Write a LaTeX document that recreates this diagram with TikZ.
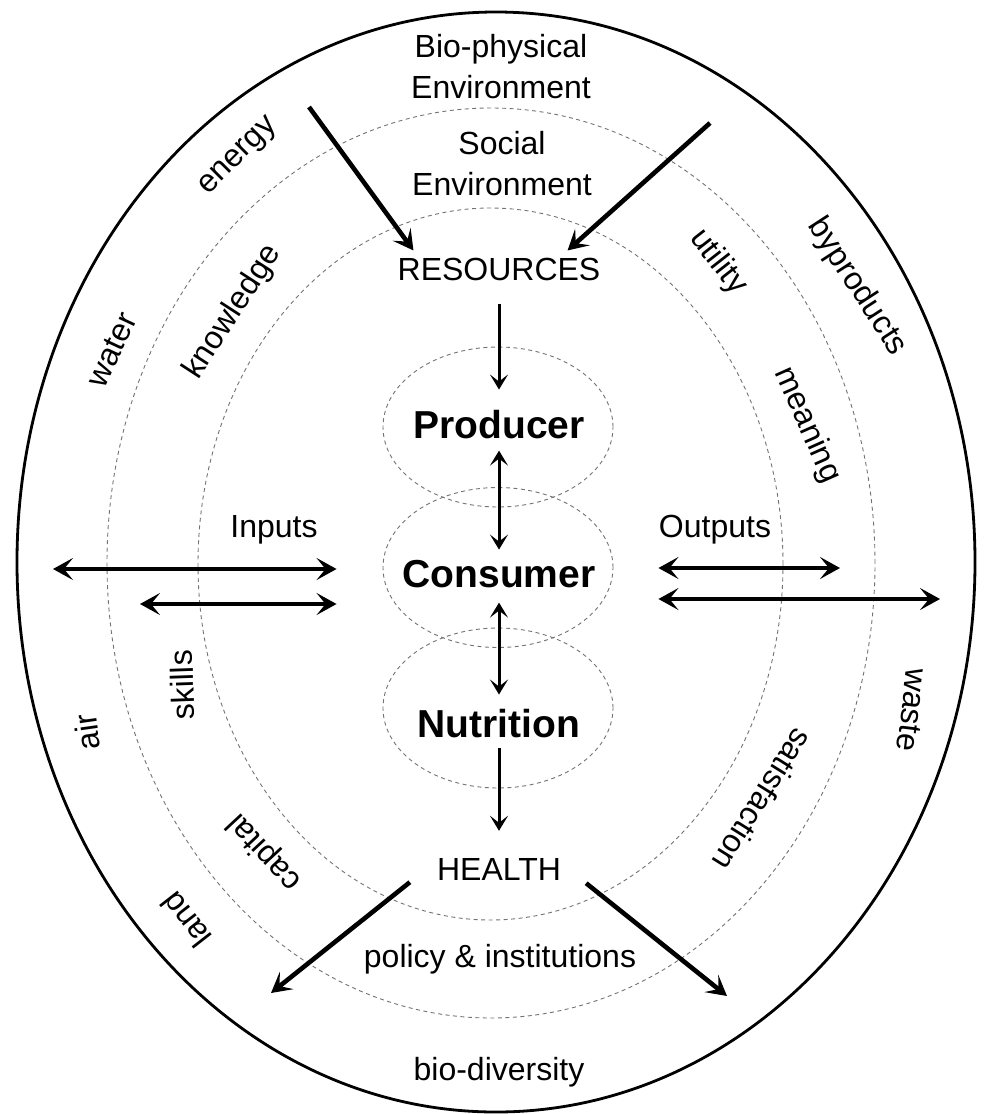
\documentclass[tikz,border=0pt]{standalone}
\usepackage{fontspec}
\setmainfont{Liberation Sans}
\usetikzlibrary{arrows.meta,shapes.geometric}
\begin{document}
\begin{tikzpicture}[x=1pt,y=1pt,
  lbl/.style={font=\fontsize{32}{41}\selectfont, inner sep=2pt, align=center},
  big/.style={font=\fontsize{39}{44}\selectfont\bfseries, inner sep=2pt},
  ring/.style={draw=black, line width=2.8pt},
  dring/.style={draw=black!55, line width=0.9pt, dash pattern=on 4pt off 3.5pt},
  fat/.style={line width=4.6pt, -{Stealth[length=20pt,width=22pt,inset=9pt]}},
  fatboth/.style={line width=4.6pt, {Stealth[length=20pt,width=22pt,inset=9pt]}-{Stealth[length=20pt,width=22pt,inset=9pt]}},
  thin/.style={line width=3pt, -{Stealth[length=15pt,width=18pt,inset=7pt]}},
  thinboth/.style={line width=3pt, {Stealth[length=15pt,width=18pt,inset=7pt]}-{Stealth[length=15pt,width=18pt,inset=7pt]}},
  blob/.style={ellipse, dashed, draw=black!55, line width=0.9pt, dash pattern=on 4pt off 3.5pt, minimum width=230pt, minimum height=160pt, inner sep=0pt}
]
\useasboundingbox (0,0) rectangle (983,-1114);

% rings
\draw[ring] (496,-562) ellipse [x radius=479, y radius=550];
\draw[dring] (491,-563) ellipse [x radius=384, y radius=455];
\draw[dring] (490.5,-564) ellipse [x radius=292.5, y radius=356];

% small ellipses
\node[blob] (pe) at (498,-427) {};
\node[blob] (ce) at (498,-567.5) {};
\node[blob] (ne) at (498,-708) {};

% central texts
\node[lbl, anchor=base] (bio) at (501,-98) {Bio-physical\\Environment};
\node[lbl, anchor=base] (soc) at (502,-195) {Social\\Environment};
\node[lbl, anchor=base] (res) at (499,-280) {RESOURCES};
\node[big, anchor=base] (prod) at (499,-438) {Producer};
\node[big, anchor=base] (cons) at (499,-587) {Consumer};
\node[big, anchor=base] (nutr) at (499,-737) {Nutrition};
\node[lbl, anchor=base] (health) at (499,-880) {HEALTH};
\node[lbl, anchor=base] (pol) at (500,-967) {policy \& institutions};
\node[lbl, anchor=base] (bd) at (499,-1080) {bio-diversity};
\node[lbl, anchor=base] (inp) at (274,-537) {Inputs};
\node[lbl, anchor=base] (outp) at (715,-537) {Outputs};

% rotated ring labels
\node[lbl, rotate=45] (energy) at (239,-157) {energy};
\node[lbl, rotate=57] (know) at (233,-312) {knowledge};
\node[lbl, rotate=65] (water) at (112,-350) {water};
\node[lbl, rotate=92] (skills) at (182,-685) {skills};
\node[lbl, rotate=98] (air) at (87,-732) {air};
\node[lbl, rotate=133] (capital) at (265,-852) {capital};
\node[lbl, rotate=128] (land) at (186,-920) {land};
\node[lbl, rotate=-52] (util) at (718,-262) {utility};
\node[lbl, rotate=-57] (byp) at (857,-287) {byproducts};
\node[lbl, rotate=-66] (mean) at (807,-425) {meaning};
\node[lbl, rotate=-97] (waste) at (912,-710) {waste};
\node[lbl, rotate=-122] (sat) at (763,-800) {satisfaction};

% free ends
\coordinate (tlS) at (309,-107);
\coordinate (trS) at (710,-123);
\coordinate (blE) at (271,-993);
\coordinate (brE) at (727,-996);
\coordinate (inA) at (53,-569);
\coordinate (inB) at (140,-604);
\coordinate (outA) at (840,-568);
\coordinate (outB) at (940,-599);

% central chain
\draw[thin, shorten <=21pt, shorten >=18pt] (res.south) -- (prod.north);
\draw[thinboth, shorten <=10pt, shorten >=8pt] (prod.south) -- (cons.north);
\draw[thinboth, shorten <=13pt, shorten >=12pt] (cons.south) -- (nutr.north);
\draw[thin, shorten <=8pt, shorten >=25pt] (nutr.south) -- (health.north);

% diagonal arrows
\draw[fat] (tlS) -- ([shift={(18,5)}]res.north west);
\draw[fat] (trS) -- ([shift={(-35,5)}]res.north east);
\draw[fat] ([shift={(-25,0)}]health.south west) -- (blE);
\draw[fat] ([shift={(23,-1)}]health.south east) -- (brE);

% horizontal arrows
\draw[fatboth] (inA) -- ([shift={(-46,-1.5)}]ce.west);
\draw[fatboth] (inB) -- ([shift={(-46,-36.5)}]ce.west);
\draw[fatboth] ([shift={(45,-0.5)}]ce.east) -- (outA);
\draw[fatboth] ([shift={(45,-31.5)}]ce.east) -- (outB);
\end{tikzpicture}
\end{document}
